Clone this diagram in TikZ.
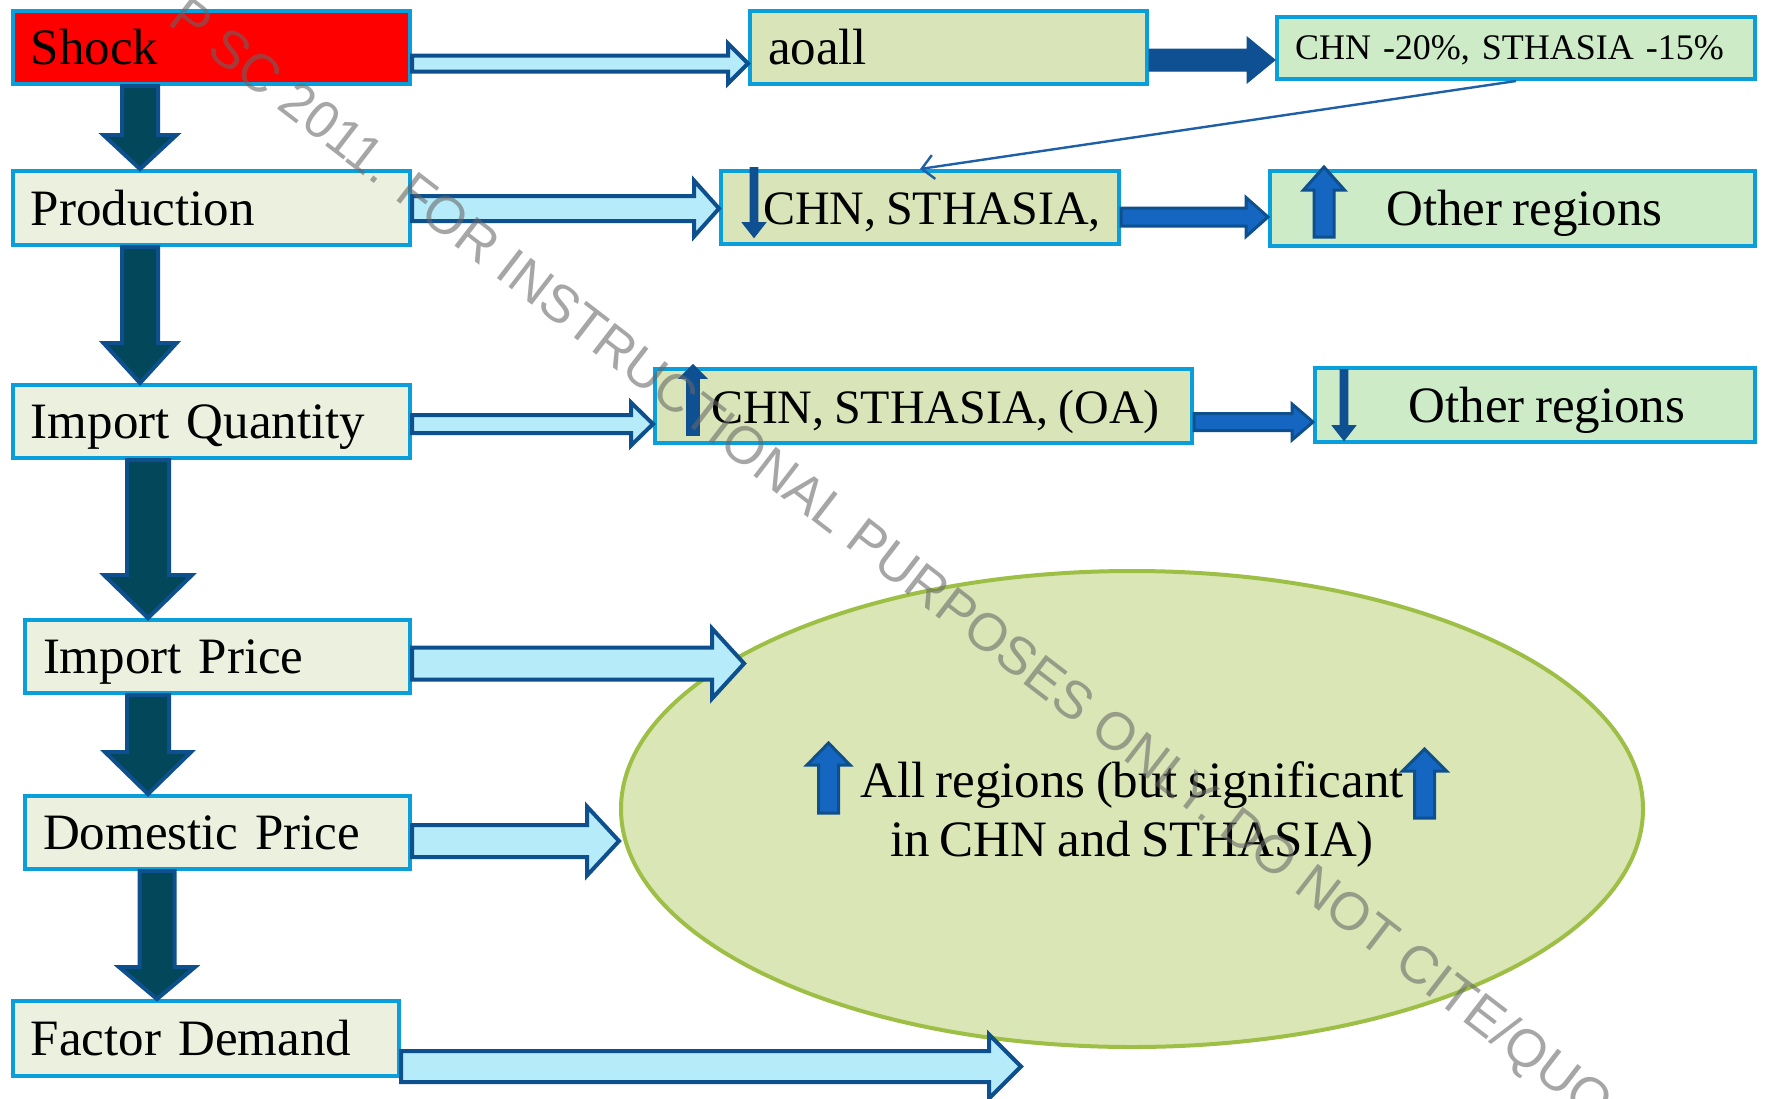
\documentclass[tikz,border=0pt]{standalone}
\usepackage{fontspec}
\setmainfont{Liberation Serif}
\newfontfamily\wmfont{Liberation Sans}
\usetikzlibrary{calc,shapes.geometric,arrows.meta}

\definecolor{boxborder}{HTML}{0A9FDA}
\definecolor{paleFill}{HTML}{EBF1DE}
\definecolor{oliveFill}{HTML}{D9E5B8}
\definecolor{mintFill}{HTML}{CDEBC7}
\definecolor{shockRed}{HTML}{FF0000}
\definecolor{hollowFill}{HTML}{B6EBF9}
\definecolor{arrowEdge}{HTML}{0E4F8E}
\definecolor{tealFill}{HTML}{03475A}
\definecolor{midBlue}{HTML}{1466C0}
\definecolor{deepBlue}{HTML}{0F5093}
\definecolor{ellFill}{HTML}{DBE6B6}
\definecolor{ellEdge}{HTML}{9DBF45}
\definecolor{linkBlue}{HTML}{1F5FA8}
\definecolor{wmGray}{HTML}{676767}

\newcommand\tightsp{\spaceskip=0.2em plus 0.05em\relax}
\newcommand\bigfont{\fontsize{25.5}{30}\selectfont\tightsp}
\newcommand\ellfont{\fontsize{25.5}{29.5}\selectfont\tightsp}
\newcommand\chnfont{\fontsize{24}{28}\selectfont\tightsp}
\newcommand\smallfont{\fontsize{18}{22}\selectfont}

% horizontal block arrow: style, tail, tip, y centre, shaft half, head half, head length (px)
\newcommand\hblock[7]{%
  \path[#1] let \p1=#2, \p2=#3, \p3=(0,#4) in
    (\x1,\y3+#5*0.5pt) -- (\x2-#7*0.5pt,\y3+#5*0.5pt) -- (\x2-#7*0.5pt,\y3+#6*0.5pt)
    -- (\x2,\y3) -- (\x2-#7*0.5pt,\y3-#6*0.5pt) -- (\x2-#7*0.5pt,\y3-#5*0.5pt)
    -- (\x1,\y3-#5*0.5pt) -- cycle;}
% vertical block arrow: style, tail, tip, x centre, shaft half, head half, head length (px)
\newcommand\vblock[7]{%
  \path[#1] let \p1=#2, \p2=#3, \p3=(#4,0), \n1={ifthenelse(\y1>\y2,1,-1)} in
    (\x3-#5*0.5pt,\y1) -- (\x3-#5*0.5pt,\y2+\n1*#7*0.5pt) -- (\x3-#6*0.5pt,\y2+\n1*#7*0.5pt)
    -- (\x3,\y2) -- (\x3+#6*0.5pt,\y2+\n1*#7*0.5pt) -- (\x3+#5*0.5pt,\y2+\n1*#7*0.5pt)
    -- (\x3+#5*0.5pt,\y1) -- cycle;}

\begin{document}
\begin{tikzpicture}[x=0.5pt,y=-0.5pt,
  box/.style={draw=boxborder, line width=2pt, inner ysep=0pt,
    font=\bigfont, text height=18.4pt, text depth=1.3pt},
  lbox/.style={box, align=left, inner xsep=9pt},
  cbox/.style={box, align=center, inner xsep=0pt},
  hollow/.style={fill=hollowFill, draw=arrowEdge, line width=2pt, line join=miter},
  downarr/.style={fill=tealFill, draw=arrowEdge, line width=2pt, line join=miter},
  solidarr/.style={fill=deepBlue, draw=deepBlue, line width=0.5pt},
  midarr/.style={fill=midBlue, draw=arrowEdge, line width=1.5pt},
  icondark/.style={fill=deepBlue, draw=arrowEdge, line width=0.8pt},
  thinlink/.style={draw=linkBlue, line width=1.2pt, -{Straight Barb[length=6pt,width=12pt]}},
  wm/.style={font=\wmfont\fontsize{26.5}{30}\selectfont, text=wmGray, text opacity=0.58, inner sep=0pt}
]
\clip (0,0) rectangle (1766,1098);
\fill[white] (0,0) rectangle (1766,1098);

% ellipse
\node[ellipse, draw=ellEdge, fill=ellFill, line width=2pt, minimum width=511pt,
  minimum height=238pt, inner sep=0pt, align=center, font=\ellfont] (ell) at (1132,809)
  {\rule{0pt}{23pt}All regions (but significant\\in CHN and STHASIA)};

% boxes
\node[lbox, fill=shockRed, text width=180.5pt, minimum height=36.5pt] (shock) at (211.5,47.5) {Shock};
\node[lbox, fill=oliveFill, text width=180.5pt, minimum height=36.5pt] (aoall) at (948.5,47.5) {aoall};
\node[lbox, fill=mintFill, text width=221pt, minimum height=31pt,
  font=\smallfont, text height=12.6pt, text depth=1pt] (chnpct) at (1516,48) {CHN -20\%, STHASIA -15\%};
\node[lbox, fill=paleFill, text width=180.5pt, minimum height=37pt] (prod) at (211.5,208) {Production};
\node[cbox, fill=oliveFill, minimum width=199pt, minimum height=36.5pt,
  font=\chnfont] (chn1) at (920,207.5) {\hspace*{12pt}CHN, STHASIA,};
\node[cbox, fill=mintFill, minimum width=242.5pt, minimum height=37.5pt] (oth1) at (1512.5,208.5) {\hspace*{12pt}Other regions};
\node[lbox, fill=paleFill, text width=180.5pt, minimum height=36.5pt] (impq) at (211.5,421.5) {Import Quantity};
\node[cbox, fill=oliveFill, minimum width=268.5pt, minimum height=37pt,
  font=\chnfont] (chn2) at (923.5,406) {\hspace*{12pt}CHN, STHASIA, (OA)};
\node[cbox, fill=mintFill, minimum width=220pt, minimum height=37pt] (oth2) at (1535,405) {\hspace*{12pt}Other regions};
\node[lbox, fill=paleFill, text width=174.5pt, minimum height=36.5pt] (impp) at (217.5,656.5) {Import Price};
\node[lbox, fill=paleFill, text width=174.5pt, minimum height=36.5pt] (domp) at (217.5,832.5) {Domestic Price};
\node[lbox, fill=paleFill, text width=175pt, minimum height=37.5pt] (fact) at (206,1038.5) {Factor Demand};
\coordinate (fdend) at (1021,1066.5);

% horizontal connectors
\hblock{hollow}{(shock.east)}{(aoall.west)}{63.5}{8}{20}{20}
\hblock{solidarr}{(aoall.east)}{(chnpct.west)}{60}{11}{23}{28}
\hblock{hollow}{(prod.east)}{(chn1.west)}{208.5}{12.5}{28}{25}
\hblock{midarr}{(chn1.east)}{(oth1.west)}{217}{9}{19.5}{22}
\hblock{hollow}{(impq.east)}{(chn2.west)}{424}{9}{21.5}{22}
\hblock{midarr}{(chn2.east)}{(oth2.west)}{422}{8.5}{18}{21}
\hblock{hollow}{(impp.east)}{($(ell.160)+(17,0)$)}{663.5}{16}{35}{32}
\hblock{hollow}{(domp.east)}{(ell.west)}{841}{16}{34.5}{32}
\hblock{hollow}{(fact.east)}{(fdend)}{1066.5}{15.5}{32}{32}

% vertical connectors
\vblock{downarr}{(shock.south)}{(prod.north)}{140}{18}{36.5}{34}
\vblock{downarr}{(prod.south)}{(impq.north)}{140}{18}{36.5}{40}
\vblock{downarr}{(impq.south)}{(impp.north)}{148}{21}{44}{43}
\vblock{downarr}{(impp.south)}{(domp.north)}{148}{21}{43}{42}
\vblock{downarr}{(domp.south)}{(fact.north)}{157}{17.5}{38}{32}

% thin link
\draw[thinlink] (chnpct.south) -- (chn1.north);

% direction icons
\vblock{icondark}{(754,168)}{(754,237)}{754}{3.5}{11}{14}
\vblock{midarr}{(1324,237)}{(1324,167)}{1324}{10}{20.5}{23}
\vblock{icondark}{(693,435)}{(693,365)}{693}{6}{13}{13}
\vblock{icondark}{(1344,370)}{(1344,440)}{1344}{3.5}{11}{14}
\vblock{midarr}{(828.5,813)}{(828.5,743)}{828.5}{10}{21.5}{22}
\vblock{midarr}{(1424.5,818)}{(1424.5,749)}{1424.5}{10}{22}{22}

% watermark
\node[wm, anchor=base west, rotate=-37.6] (wmark) at (393,198)
  {\llap{P SC 2011. }FOR INSTRUCTIONAL PURPOSES ONLY. DO NOT CITE/QUO};
\end{tikzpicture}
\end{document}
